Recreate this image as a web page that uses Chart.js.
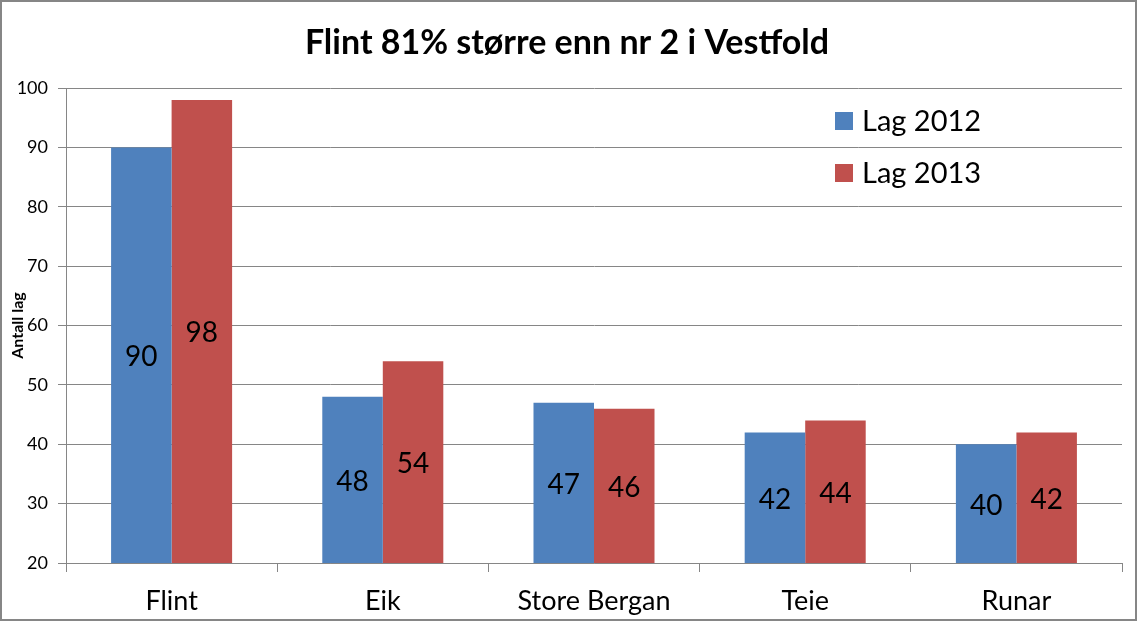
<!DOCTYPE html>
<html><head><meta charset="utf-8">
<script src="https://cdn.jsdelivr.net/npm/chart.js@4.4.1/dist/chart.umd.min.js"></script>
<style>html,body{margin:0;padding:0;background:#fff}#wrap{width:1137px;height:621px;position:relative}</style>
</head><body><div id="wrap"><canvas id="c" width="1137" height="621"></canvas></div>
<script>
const categories = ["Flint", "Eik", "Store Bergan", "Teie", "Runar"];
const lag2012 = [90, 48, 47, 42, 40];
const lag2013 = [98, 54, 46, 44, 42];
const seriesNames = ["Lag 2012", "Lag 2013"];
const titleText = "Flint 81% større enn nr 2 i Vestfold";
const yTitle = "Antall lag";
const FONT = "Lato, 'Open Sans', 'DejaVu Sans', sans-serif";

const extras = {
  id: 'extras',
  afterDraw(chart) {
    const ctx = chart.ctx, ca = chart.chartArea;
    ctx.save();
    // border
    ctx.strokeStyle = '#868686'; ctx.lineWidth = 2;
    ctx.strokeRect(1, 1, chart.width - 2, chart.height - 2);
    // title
    ctx.fillStyle = '#000'; ctx.textAlign = 'center'; ctx.textBaseline = 'middle';
    ctx.font = "bold 34px " + FONT;
    ctx.fillText(titleText, 567, 43);
    // y axis title
    ctx.save();
    ctx.translate(18, (ca.top + ca.bottom) / 2);
    ctx.rotate(-Math.PI / 2);
    ctx.font = "bold 16px " + FONT;
    ctx.fillText(yTitle, 0, 0);
    ctx.restore();
    // data labels
    ctx.font = "28px " + FONT;
    chart.data.datasets.forEach((ds, i) => {
      chart.getDatasetMeta(i).data.forEach((el, j) => {
        ctx.fillText(String(ds.data[j]), el.x, (el.y + ca.bottom) / 2 + 2);
      });
    });
    // legend
    ctx.textAlign = 'left'; ctx.font = "29px " + FONT;
    chart.data.datasets.forEach((ds, i) => {
      const y = 121 + i * 52;
      ctx.fillStyle = ds.backgroundColor;
      ctx.fillRect(835, y - 9, 18, 18);
      ctx.fillStyle = '#000';
      ctx.fillText(ds.label, 862, y + 1);
    });
    ctx.restore();
  }
};

new Chart(document.getElementById('c'), {
  type: 'bar',
  data: {
    labels: categories,
    datasets: [
      { label: seriesNames[0], data: lag2012, backgroundColor: '#4F81BD' },
      { label: seriesNames[1], data: lag2013, backgroundColor: '#C0504D' }
    ]
  },
  options: {
    responsive: false, animation: false,
    categoryPercentage: 0.573, barPercentage: 1,
    layout: { padding: { top: 88, right: 15, bottom: 0, left: 0 } },
    plugins: { legend: { display: false }, tooltip: { enabled: false }, title: { display: false } },
    scales: {
      x: {
        offset: true,
        grid: { offset: true, drawOnChartArea: false, drawTicks: true, tickLength: 9, color: '#868686' },
        border: { color: '#868686' },
        ticks: { font: { size: 27, family: FONT }, color: '#000', padding: 13 },
        afterFit(s) { s.height = 58; }
      },
      y: {
        min: 20, max: 100,
        grid: { color: '#868686', tickLength: 8 },
        border: { color: '#868686' },
        ticks: { stepSize: 10, font: { size: 18, family: FONT }, color: '#000', padding: 10 },
        afterFit(s) { s.width = 66; }
      }
    }
  },
  plugins: [extras]
});
</script></body></html>
